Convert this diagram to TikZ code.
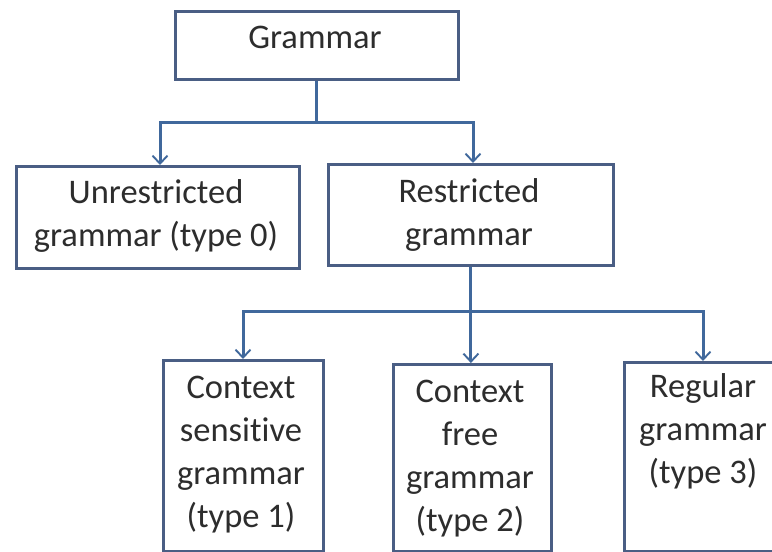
\documentclass[tikz,border=0pt]{standalone}
\usepackage{fontspec}
\setmainfont{Carlito}[Ligatures=NoCommon]
\usetikzlibrary{arrows.meta}
\definecolor{boxline}{RGB}{74,94,132}
\definecolor{conline}{RGB}{64,104,156}
\definecolor{txt}{RGB}{45,45,45}
\tikzset{
  box/.style={draw=boxline, line width=2.8pt, fill=white, inner sep=0pt, anchor=north west},
  conn/.style={draw=conline, line width=3pt},
  arr/.style={conn, -{Straight Barb[length=8pt,width=15pt,line width=1.9pt]}},
  lbl/.style={anchor=base, inner sep=0pt, text=txt, font=\fontsize{34.5}{43}\selectfont}
}
\newcommand{\lines}[1]{\begin{tabular}[t]{@{}c@{}}#1\end{tabular}}
\begin{document}
\begin{tikzpicture}[x=1pt,y=-1pt]
\useasboundingbox (0,0) rectangle (772,552);
\fill[white] (0,0) rectangle (772,552);
\clip (0,0) rectangle (772,552);
% boxes
\node[box, minimum width=283pt, minimum height=68pt] (G) at (174,10) {};
\node[box, minimum width=283pt, minimum height=102pt] (U) at (15,165) {};
\node[box, minimum width=285pt, minimum height=101pt] (R) at (327,163) {};
\node[box, minimum width=160pt, minimum height=191pt] (CS) at (162,359) {};
\node[box, minimum width=158pt, minimum height=187pt] (CF) at (392,363) {};
\node[box, minimum width=162pt, minimum height=189pt] (RG) at (623,361) {};
% labels
\node[lbl] (tG) at (315,48) {Grammar};
\node[lbl] (tU) at (156,203) {\lines{Unrestricted\\grammar (type 0)}};
\node[lbl] (tR) at (469,202) {\lines{Restricted\\grammar}};
\node[lbl] (tCS) at (241,398) {\lines{Context\\sensitive\\grammar\\(type 1)}};
\node[lbl] (tCF) at (470,402) {\lines{Context\\free\\grammar\\(type 2)}};
\node[lbl] (tRG) at (703,397) {\lines{Regular\\grammar\\(type 3)}};
% connectors
\coordinate (jU) at (160,122);
\coordinate (jR) at (473,122);
\coordinate (kL) at (243,311);
\coordinate (kR) at (703,311);
\draw[arr] (G.south) |- (jU) -- (jU |- U.north);
\draw[arr] (G.south) |- (jR) -- (jR |- R.north);
\draw[arr] (R.south) |- (kL) -- (kL |- CS.north);
\draw[arr] (R.south) |- (kR) -- (kR |- RG.north);
\draw[arr] (R.south) -- (R.south |- CF.north);
\end{tikzpicture}
\end{document}
